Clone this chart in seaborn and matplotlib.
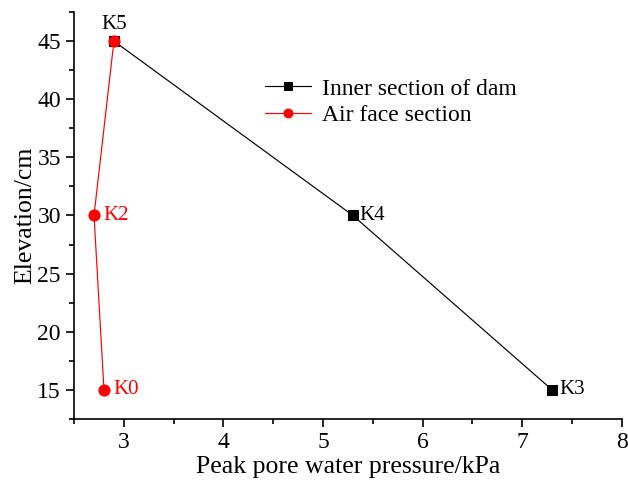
import matplotlib
matplotlib.use("Agg")
import matplotlib.pyplot as plt
import seaborn as sns
import pandas as pd
from matplotlib.ticker import MultipleLocator

sns.set_theme(style="ticks")
plt.rcParams['font.family'] = ['Liberation Serif', 'DejaVu Serif']
plt.rcParams['text.color'] = 'black'
plt.rcParams['axes.labelcolor'] = 'black'
plt.rcParams['xtick.color'] = 'black'
plt.rcParams['ytick.color'] = 'black'

inner_x = [2.9, 5.3, 7.3]
inner_y = [45, 30, 15]
inner_labels = ["K5", "K4", "K3"]
air_x = [2.9, 2.7, 2.8]
air_y = [45, 30, 15]
air_labels = ["K5", "K2", "K0"]

df_inner = pd.DataFrame({"x": inner_x, "y": inner_y})
df_air = pd.DataFrame({"x": air_x, "y": air_y})

fig, ax = plt.subplots(figsize=(6.28, 4.82), dpi=100)
fig.subplots_adjust(left=0.118, right=0.99, top=0.975, bottom=0.131)

sns.lineplot(data=df_inner, x="x", y="y", sort=False, color="black", lw=0.85,
             marker="s", markersize=7, markeredgecolor="black",
             label="Inner section of dam", ax=ax)
sns.lineplot(data=df_air, x="x", y="y", sort=False, color="red", lw=0.85,
             marker="o", markersize=8, markeredgecolor="red",
             label="Air face section", ax=ax)

# annotations
ax.text(inner_x[0], inner_y[0] + 0.6, inner_labels[0], color="black", fontsize=15,
        ha="center", va="bottom")
for x, y, t in zip(inner_x[1:], inner_y[1:], inner_labels[1:]):
    ax.text(x + 0.07, y, t, color="black", fontsize=15, ha="left", va="center")
for x, y, t in zip(air_x[1:], air_y[1:], air_labels[1:]):
    ax.text(x + 0.09, y, t, color="red", fontsize=15, ha="left", va="center")

ax.set_xlim(2.5, 8)
ax.set_ylim(12.5, 47.5)
ax.xaxis.set_major_locator(MultipleLocator(1))
ax.xaxis.set_minor_locator(MultipleLocator(0.5))
ax.yaxis.set_major_locator(MultipleLocator(5))
ax.yaxis.set_minor_locator(MultipleLocator(2.5))
ax.tick_params(which="major", direction="out", length=6, width=1.2, labelsize=17, color="black",
               labelcolor="black")
ax.tick_params(which="minor", direction="out", length=3.5, width=1.2, color="black")
ax.set_xlabel("Peak pore water pressure/kPa", fontsize=18.5, color="black", labelpad=2)
ax.set_ylabel("Elevation/cm", fontsize=18.5, color="black", labelpad=1)
for s in ["top", "right"]:
    ax.spines[s].set_visible(False)
for s in ["left", "bottom"]:
    ax.spines[s].set_color("black")
    ax.spines[s].set_linewidth(1.2)

leg = ax.legend(loc="upper left", bbox_to_anchor=(0.309, 0.89), frameon=False,
                fontsize=17, handlelength=1.95, labelspacing=0.2, handletextpad=0.5,
                markerscale=0.8)
for t in leg.get_texts():
    t.set_color("black")

fig.savefig("out.png", dpi=100)
